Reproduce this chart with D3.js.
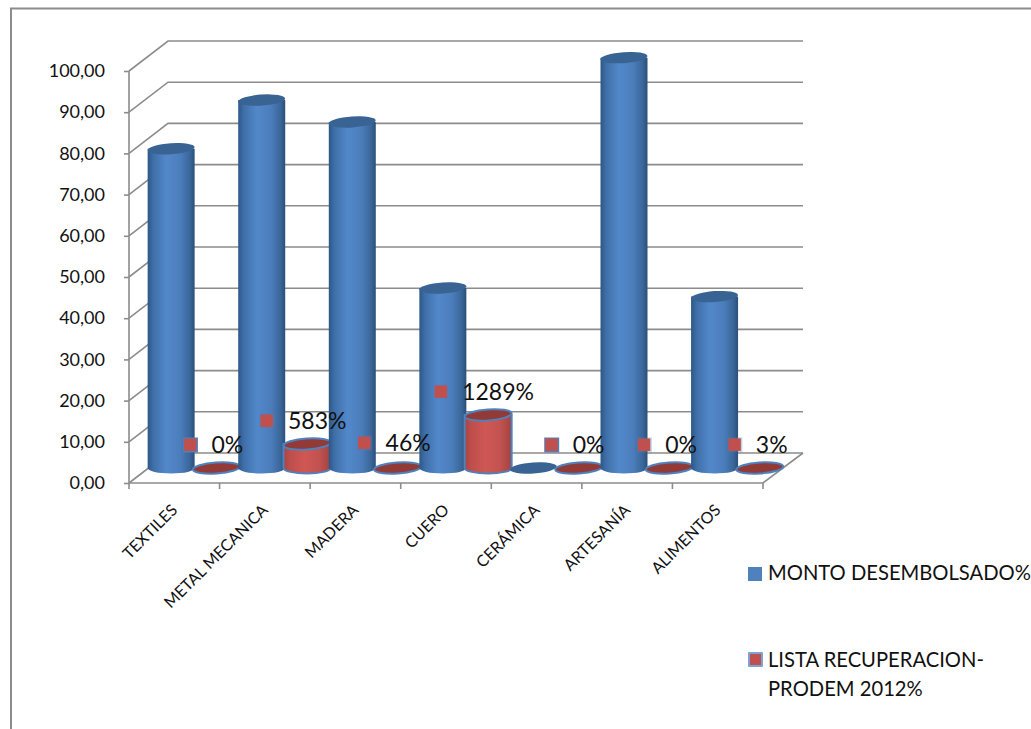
<!DOCTYPE html>
<html><head><meta charset="utf-8">
<script src="https://cdnjs.cloudflare.com/ajax/libs/d3/7.8.5/d3.min.js"></script>
<style>html,body{margin:0;padding:0;background:#fff}svg{display:block}text{font-family:Lato,"Open Sans",sans-serif;fill:#111}</style>
</head><body><div id="c"></div>
<script>
const categories=["TEXTILES","METAL MECANICA","MADERA","CUERO","CERÁMICA","ARTESANÍA","ALIMENTOS"];
const montoDesembolsado=[77.5,89.3,84,43.7,0,99.6,41.6];
const listaRecuperacion=[0,5.83,0.46,12.89,0,0,0.03];
const recuperacionLabels=["0%","583%","46%","1289%","0%","0%","3%"];
const yTicks=[0,10,20,30,40,50,60,70,80,90,100];
const legendNames=["MONTO DESEMBOLSADO%",["LISTA RECUPERACION-","PRODEM 2012%"]];

const W=1031,H=729;
const svg=d3.select("#c").append("svg").attr("width",W).attr("height",H);
const x=d3.scaleBand().domain(categories).range([129,763]);
const y=d3.scaleLinear().domain([0,100]).range([483,71]);
const depthX=39,depthY=30,grey="#8c8c8c";
const fmt=d=>d3.format(".2f")(d).replace(".",",");

const defs=svg.append("defs");
function grad(id,stops){const g=defs.append("linearGradient").attr("id",id).attr("x1",0).attr("x2",1).attr("y1",0).attr("y2",0);
  stops.forEach(([o,c])=>g.append("stop").attr("offset",o).attr("stop-color",c));}
grad("gb",[[0,"#2c5787"],[.12,"#3f6fa8"],[.4,"#5288ca"],[.7,"#4b7dbb"],[.9,"#3a6699"],[1,"#2b5079"]]);
grad("gr",[[0,"#a84442"],[.15,"#bf4f4c"],[.45,"#cf5754"],[.75,"#c25350"],[1,"#a34240"]]);

// chart frame
svg.append("path").attr("d",`M${W},8.5H11V${H}`).attr("fill","none").attr("stroke",grey).attr("stroke-width",2);

// back wall and side wall gridlines
const grid=svg.append("g").attr("fill","none").attr("stroke",grey).attr("stroke-width",1.6);
grid.selectAll("path").data(yTicks).join("path")
  .attr("d",d=>`M${x.range()[0]},${y(d)}L${x.range()[0]+depthX},${y(d)-depthY}H${x.range()[1]+depthX+1}`);
grid.append("path").attr("d",`M${x.range()[0]},${y(0)}H${x.range()[1]}L${x.range()[1]+depthX+1},${y(0)-depthY}`);

// axes
const axY=svg.append("g").attr("transform",`translate(${x.range()[0]},0)`).call(d3.axisLeft(y).tickValues(yTicks).tickFormat(fmt).tickSize(5).tickPadding(19));
axY.selectAll("line").attr("stroke",grey).attr("stroke-width",1.6);
axY.select(".domain").attr("stroke",grey).attr("stroke-width",1.6).attr("d",`M0,${y(100)}V${y(0)}`);
axY.selectAll("text").attr("font-size",18).style("font-family","Lato");
const tickEdges=d3.range(categories.length+1).map(i=>x.range()[0]+i*x.step());
svg.append("g").selectAll("line").data(tickEdges).join("line")
  .attr("x1",d=>d).attr("x2",d=>d).attr("y1",y(0)).attr("y2",y(0)+6).attr("stroke",grey).attr("stroke-width",1.6);
svg.append("g").selectAll("text").data(categories).join("text")
  .attr("text-anchor","end").attr("font-size",16)
  .attr("transform",d=>`translate(${x(d)+x.step()/2+4},${y(0)+28}) rotate(-45)`).text(d=>d);

// cylinders
const rx=23.5,ry=6.5,lift=15;
function cyl(g,cx,v,fill,top,blueEdge){
  const yb=y(0)-lift,yt=y(v)-lift;
  const s=blueEdge?"#4f81bd":"none";
  if(v>0.5){
    g.append("path").attr("d",`M${cx-rx},${yt}V${yb}A${rx},${ry-1} 0 0 0 ${cx+rx},${yb}V${yt}Z`)
      .attr("fill",`url(#${fill})`).attr("stroke",s).attr("stroke-width",2);
  }
  const cy=v>0.5?yt:yb;
  g.append("ellipse").attr("cx",cx).attr("cy",cy).attr("rx",rx).attr("ry",ry-1)
    .attr("transform",`rotate(-4 ${cx} ${cy})`)
    .attr("fill",top).attr("stroke",s).attr("stroke-width",2);
}
const bars=svg.append("g");
categories.forEach((c,i)=>{
  const c0=x(c)+x.step()/4+19.5, c1=c0+x.step()/2;
  cyl(bars,c0,montoDesembolsado[i],"gb","#386393",false);
  cyl(bars,c1,listaRecuperacion[i],"gr","#913a38",true);
});

// data labels with their legend keys (hand-placed in the original)
const keyNudge=[-26,-40,-33,-47,-27,-25,-25];
const labY=d3.scaleLinear().domain([0,100]).range([y(0)-38,y(100)-38]);
const lab=svg.append("g");
categories.forEach((c,i)=>{
  const kx=x(c)+x.step()/4+19.5+x.step()/2+keyNudge[i], ky=labY(listaRecuperacion[i]);
  lab.append("rect").attr("x",kx-7.5).attr("y",ky-7.5).attr("width",15).attr("height",15).attr("fill","#4f81bd").attr("opacity",i==0||i==4?1:.35);
  lab.append("rect").attr("x",kx-6.5).attr("y",ky-6.5).attr("width",12.5).attr("height",12.5).attr("fill","#c0504d");
  lab.append("text").attr("x",kx+21).attr("y",ky+8).attr("font-size",23).text(recuperacionLabels[i]);
});

// legend
const lg=svg.append("g");
lg.append("rect").attr("x",748).attr("y",567).attr("width",14).attr("height",14).attr("fill","#4f81bd");
lg.append("text").attr("x",768).attr("y",580).attr("font-size",20.2).text(legendNames[0]);
lg.append("rect").attr("x",748).attr("y",652).attr("width",15).attr("height",15).attr("rx",1).attr("fill","#7ca3d6");
lg.append("rect").attr("x",750).attr("y",654).attr("width",11).attr("height",11).attr("fill","#c0504d");
legendNames[1].forEach((t,i)=>lg.append("text").attr("x",768).attr("y",667+i*29).attr("font-size",20.2).text(t));
</script></body></html>
